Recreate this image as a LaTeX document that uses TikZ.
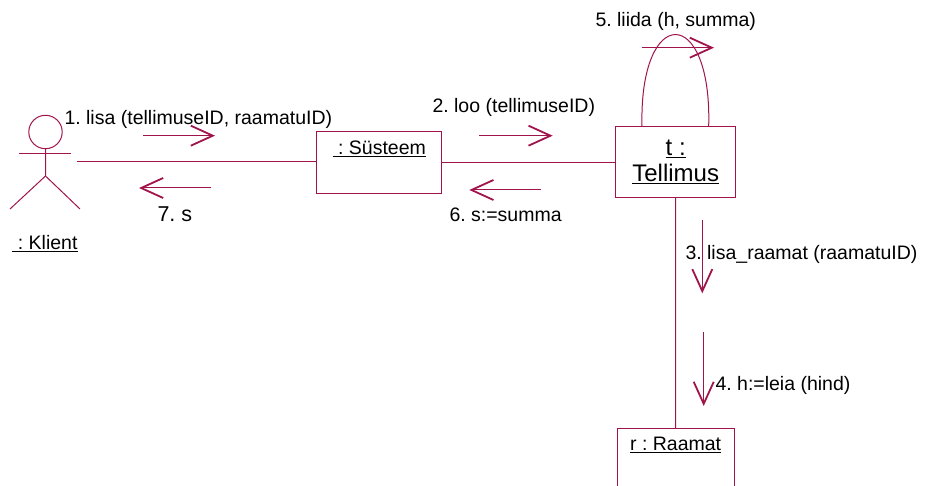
\documentclass[tikz,border=0pt]{standalone}
\usepackage{fontspec}
\setmainfont{Liberation Sans}
\usetikzlibrary{arrows.meta,calc}
\definecolor{uml}{RGB}{160,20,75}
\frenchspacing
\begin{document}
\begin{tikzpicture}[x=1pt,y=-1pt,
  line width=1pt,
  obj/.style={draw=uml, line width=1pt, inner xsep=0pt, font=\fontsize{19.5}{22}\selectfont},
  lbl/.style={font=\fontsize{19.5}{22}\selectfont, inner sep=0pt, anchor=base west},
  link/.style={draw=uml, line width=1pt},
  msg/.style={draw=uml, line width=1pt, -{Straight Barb[length=22pt,width=20pt,line width=1.8pt]}}]
\useasboundingbox (0,0) rectangle (927,486);

% actor
\draw[uml, line width=1pt] (45.5,132) circle (16.7);
\draw[uml, line width=1pt] (19,154) -- (71,154);
\draw[uml, line width=1pt] (45.5,148.7) -- (45.5,176) -- (10,209);
\draw[uml, line width=1pt] (45.5,176) -- (80,209);
\node[lbl, anchor=base] (klientlbl) at (45,250) {\underline{\ : Klient}};
\coordinate (klientR) at (77,161.7);

% objects
\node[obj, minimum width=124.7pt, inner ysep=0pt, text height=23pt, text depth=39pt] (s) at (379.3,163) {\underline{\ : Süsteem}};
\node[obj, minimum width=120pt, minimum height=71pt, align=center, font=\fontsize{24}{26}\selectfont] (t) at (675.7,162.2) {\underline{t :}\\\underline{Tellimus}};
\node[obj, anchor=north, minimum width=116.7pt, inner ysep=0pt, text height=21.7pt, text depth=52pt] (r) at (675.65,428.3) {\underline{r : Raamat}};

% links
\draw[link] (klientR) -- (klientR -| s.west);
\draw[link] (s.east) -- (s.east -| t.west);
\draw[link] (t.south) -- (r.north);
\coordinate (loopL) at ([xshift=-33.7pt]t.north);
\coordinate (loopR) at ([xshift=33pt]t.north);
\draw[link] (loopL) .. controls (639,4) and (712,4) .. (loopR);

% messages
\coordinate (m1a) at (143,135.7); \coordinate (m1b) at (215,135.7);
\draw[msg] (m1a) -- (m1b);
\node[lbl] (l1) at (64,125) {1. lisa (tellimuseID, raamatuID)};

\coordinate (m7a) at (211,188); \coordinate (m7b) at (139,188);
\draw[msg] (m7a) -- (m7b);
\node[lbl, font=\fontsize{21.5}{24}\selectfont] (l7) at (157,221.7) {7. s};

\coordinate (m2a) at (479,135.7); \coordinate (m2b) at (552.7,135.7);
\draw[msg] (m2a) -- (m2b);
\node[lbl] (l2) at (432,113) {2. loo (tellimuseID)};

\coordinate (m6a) at (540.7,190); \coordinate (m6b) at (469.3,190);
\draw[msg] (m6a) -- (m6b);
\node[lbl] (l6) at (449,221.7) {6. s:=summa};

\coordinate (m5a) at (641.7,47.7); \coordinate (m5b) at (714,47.7);
\draw[msg] (m5a) -- (m5b);
\node[lbl] (l5) at (595,26.7) {5. liida (h, summa)};

\coordinate (m3a) at (702.3,220); \coordinate (m3b) at (702.3,293.3);
\draw[msg] (m3a) -- (m3b);
\node[lbl] (l3) at (685,259.3) {3. lisa\_raamat (raamatuID)};

\coordinate (m4a) at (703.7,332.3); \coordinate (m4b) at (703.7,406);
\draw[msg] (m4a) -- (m4b);
\node[lbl] (l4) at (715,390.7) {4. h:=leia (hind)};
\end{tikzpicture}
\end{document}
